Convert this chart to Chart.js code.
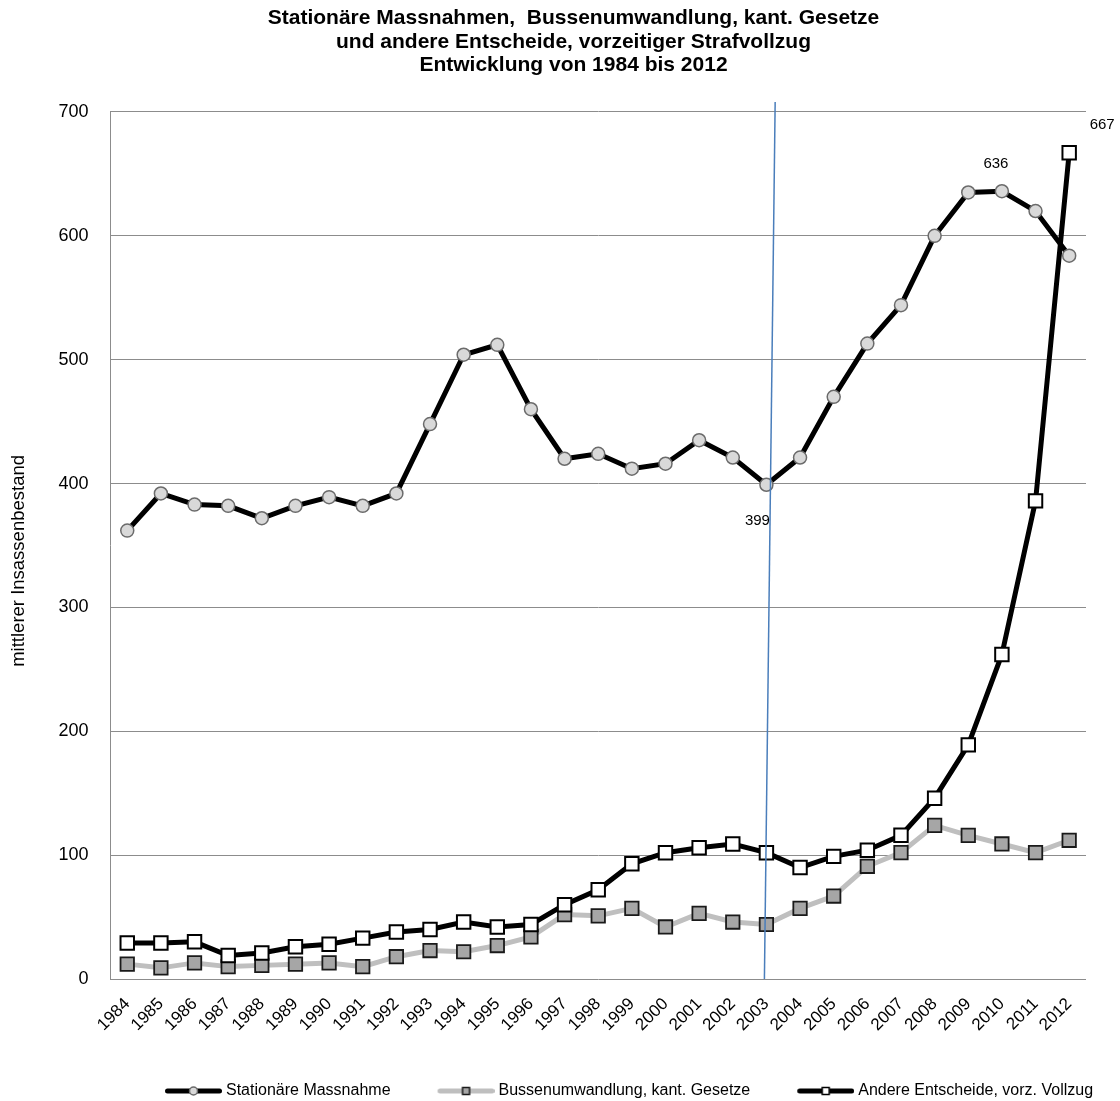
<!DOCTYPE html>
<html><head><meta charset="utf-8">
<script src="https://cdn.jsdelivr.net/npm/chart.js@4/dist/chart.umd.min.js"></script>
<style>html,body{margin:0;padding:0;background:#fff}#wrap{width:1120px;height:1101px}</style>
</head><body><div id="wrap"><canvas id="c" width="1120" height="1101"></canvas></div>
<script>
const years = ['1984','1985','1986','1987','1988','1989','1990','1991','1992','1993','1994','1995','1996','1997','1998','1999','2000','2001','2002','2003','2004','2005','2006','2007','2008','2009','2010','2011','2012'];
const stationaer = [362,392,383,382,372,382,389,382,392,448,504,512,460,420,424,412,416,435,421,399,421,470,513,544,600,635,636,620,584];
const bussen = [12,9,13,10,11,12,13,10,18,23,22,27,34,52,51,57,42,53,46,44,57,67,91,102,124,116,109,102,112];
const andere = [29,29,30,19,21,26,28,33,38,40,46,42,44,60,72,93,102,106,109,102,90,99,104,116,146,189,262,386,667];
const seriesNames = ['Stationäre Massnahme','Bussenumwandlung, kant. Gesetze','Andere Entscheide, vorz. Vollzug'];
const titleLines = ['Stationäre Massnahmen,  Bussenumwandlung, kant. Gesetze','und andere Entscheide, vorzeitiger Strafvollzug','Entwicklung von 1984 bis 2012'];
const yAxisTitle = 'mittlerer Insassenbestand';
const yMin = 0, yMax = 700, yStep = 100;
const valueLabels = [
  {series:0, year:'2003', dx:-9, dy:36},
  {series:0, year:'2010', dx:-6, dy:-27},
  {series:2, year:'2012', dx:33, dy:-28}
];
const markerYear = '2003';

const FONT = "'Liberation Sans', Arial, sans-serif";
Chart.defaults.font.family = FONT;
Chart.defaults.color = '#000';

function legendImage(lineColor, shape, fill, stroke) {
  const c = document.createElement('canvas');
  c.width = 105; c.height = 16;
  const g = c.getContext('2d');
  g.strokeStyle = lineColor; g.lineWidth = 5; g.lineCap = 'round';
  g.beginPath(); g.moveTo(50.5, 8); g.lineTo(102.5, 8); g.stroke();
  g.fillStyle = fill; g.strokeStyle = stroke; g.lineWidth = 1.5;
  if (shape === 'circle') { g.beginPath(); g.arc(76.5, 8, 4, 0, Math.PI*2); g.fill(); g.stroke(); }
  else { g.fillRect(73, 4.5, 7, 7); g.strokeRect(73, 4.5, 7, 7); }
  return c;
}

const shiftPlugin = {
  id: 'shift',
  afterLayout(chart) {
    chart.titleBlock.left += 26.5; chart.titleBlock.right += 26.5;
    chart.legend.left += 110; chart.legend.right += 110;
    chart.legend.top += 8; chart.legend.bottom += 8;
  }
};

const labelPlugin = {
  id: 'valueLabels',
  afterDatasetsDraw(chart) {
    const ctx = chart.ctx;
    const xs = chart.scales.x, ys = chart.scales.y;
    const idx = years.indexOf(markerYear);
    ctx.save();
    ctx.strokeStyle = '#4a7ebb'; ctx.lineWidth = 1.5;
    ctx.beginPath();
    ctx.moveTo(xs.getPixelForValue(idx + 0.26), ys.getPixelForValue(708));
    ctx.lineTo(xs.getPixelForValue(idx - 0.06), ys.getPixelForValue(0));
    ctx.stroke();
    ctx.font = '15px ' + FONT; ctx.fillStyle = '#000';
    ctx.textAlign = 'center'; ctx.textBaseline = 'middle';
    valueLabels.forEach(l => {
      const i = years.indexOf(l.year);
      const pt = chart.getDatasetMeta(l.series).data[i];
      const v = chart.data.datasets[l.series].data[i];
      ctx.fillText(String(v), pt.x + l.dx, pt.y + l.dy);
    });
    ctx.restore();
  }
};

const legendImgs = [
  legendImage('#000', 'circle', '#d9d9d9', '#6b6b6b'),
  legendImage('#bfbfbf', 'rect', '#a6a6a6', '#1a1a1a'),
  legendImage('#000', 'rect', '#ffffff', '#000')
];

new Chart(document.getElementById('c'), {
  type: 'line',
  data: {
    labels: years,
    datasets: [
      {label: seriesNames[0], data: stationaer, borderColor:'#000', borderWidth:5, tension:0,
       pointStyle:'circle', pointRadius:6.5, pointBackgroundColor:'#d9d9d9', pointBorderColor:'#6b6b6b', pointBorderWidth:1.5, order:1},
      {label: seriesNames[1], data: bussen, borderColor:'#bfbfbf', borderWidth:5, tension:0,
       pointStyle:'rect', pointRadius:9.5, pointBackgroundColor:'#a6a6a6', pointBorderColor:'#1a1a1a', pointBorderWidth:1.8, order:2},
      {label: seriesNames[2], data: andere, borderColor:'#000', borderWidth:5, tension:0,
       pointStyle:'rect', pointRadius:9.5, pointBackgroundColor:'#ffffff', pointBorderColor:'#000', pointBorderWidth:2, order:0}
    ]
  },
  options: {
    responsive: false, animation: false, devicePixelRatio: 1,
    events: [],
    layout: {padding: {left: 8, right: 34, top: 0, bottom: 0}},
    plugins: {
      title: {display: true, text: titleLines, color:'#000',
        font: {size: 21, weight: 'bold', lineHeight: 1.12, family: FONT},
        padding: {top: 6.8, bottom: 34.6}},
      legend: {position: 'bottom', align: 'start',
        labels: {usePointStyle: true, pointStyleWidth: 97, boxHeight: 16, padding: 3,
          font: {size: 16, family: FONT}, color: '#000',
          generateLabels: (chart) => chart.data.datasets.map((ds, i) => ({
            text: ds.label, pointStyle: legendImgs[i], fillStyle: 'rgba(0,0,0,0)',
            strokeStyle: 'rgba(0,0,0,0)', lineWidth: 0, hidden: false, datasetIndex: i, fontColor: '#000'
          }))
        }},
      tooltip: {enabled: false}
    },
    scales: {
      x: {offset: true, grid: {display: false, drawTicks: false}, border: {display: false},
        ticks: {autoSkip: false, minRotation: 45, maxRotation: 45, padding: 15, color: '#000',
          font: {size: 17, family: FONT}},
        afterFit: (s) => { s.height = 93; }},
      y: {min: yMin, max: yMax,
        ticks: {stepSize: yStep, padding: 22, color: '#000', font: {size: 18, family: FONT}},
        grid: {color: '#8c8c8c', lineWidth: 1, drawTicks: false},
        border: {display: true, color: '#8c8c8c', width: 1},
        title: {display: true, text: yAxisTitle + '      ', color: '#000', font: {size: 18.5, family: FONT},
          padding: {top: 0, bottom: 6.2}}}
    }
  },
  plugins: [shiftPlugin, labelPlugin]
});
</script></body></html>
